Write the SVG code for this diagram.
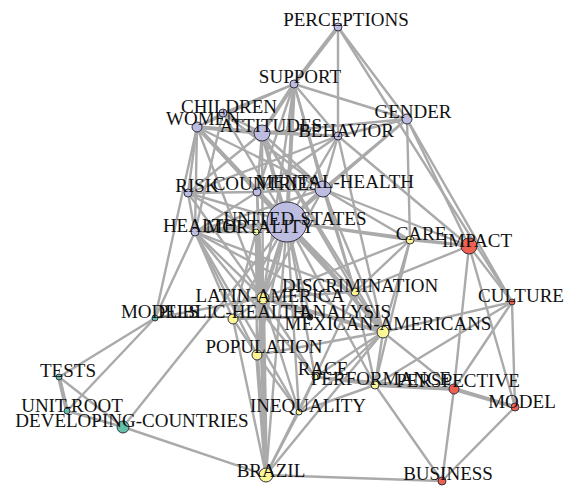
<svg xmlns="http://www.w3.org/2000/svg" width="568" height="486" viewBox="0 0 568 486">
<style>
.bg{fill:#ffffff}
#edges line{stroke:#aaaaaa;stroke-width:2.4;stroke-linecap:round}
#edges line.t{stroke-width:4}
#edges line.k{stroke:#333333;stroke-width:1.2}
circle{stroke:#333344;stroke-width:1}
.lav{fill:#bdbde2}
.yel{fill:#fcf594}
.red{fill:#f0604f}
.tea{fill:#63bfa9}
.dk{fill:#3a3a2a}
text{font-family:"Liberation Serif","Times New Roman",serif;font-size:19px;fill:#111111;text-anchor:middle}
</style>
<rect class="bg" x="0" y="0" width="568" height="486"/>
<g id="edges">
<line class="t" x1="338" y1="27" x2="294" y2="84"/>
<line x1="338" y1="27" x2="338" y2="136"/>
<line x1="338" y1="27" x2="407" y2="119"/>
<line x1="338" y1="27" x2="512" y2="302"/>
<line x1="294" y1="84" x2="407" y2="119"/>
<line x1="294" y1="84" x2="197" y2="127"/>
<line x1="294" y1="84" x2="223" y2="113"/>
<line class="t" x1="294" y1="84" x2="262" y2="133"/>
<line x1="294" y1="84" x2="338" y2="136"/>
<line class="t" x1="294" y1="84" x2="287" y2="222"/>
<line x1="294" y1="84" x2="323" y2="189"/>
<line x1="294" y1="84" x2="257" y2="192"/>
<line x1="294" y1="84" x2="263" y2="298"/>
<line x1="294" y1="84" x2="355" y2="292"/>
<line x1="223" y1="113" x2="197" y2="127"/>
<line x1="223" y1="113" x2="262" y2="133"/>
<line x1="223" y1="113" x2="287" y2="222"/>
<line x1="223" y1="113" x2="195" y2="232"/>
<line x1="223" y1="113" x2="323" y2="189"/>
<line class="t" x1="197" y1="127" x2="262" y2="133"/>
<line x1="197" y1="127" x2="338" y2="136"/>
<line x1="197" y1="127" x2="195" y2="232"/>
<line x1="197" y1="127" x2="188" y2="193"/>
<line x1="197" y1="127" x2="257" y2="192"/>
<line class="t" x1="197" y1="127" x2="287" y2="222"/>
<line x1="197" y1="127" x2="323" y2="189"/>
<line x1="197" y1="127" x2="263" y2="298"/>
<line x1="197" y1="127" x2="155" y2="318"/>
<line x1="197" y1="127" x2="383" y2="332"/>
<line x1="262" y1="133" x2="338" y2="136"/>
<line class="t" x1="262" y1="133" x2="287" y2="222"/>
<line x1="262" y1="133" x2="323" y2="189"/>
<line x1="262" y1="133" x2="257" y2="192"/>
<line x1="262" y1="133" x2="188" y2="193"/>
<line x1="262" y1="133" x2="407" y2="119"/>
<line x1="262" y1="133" x2="263" y2="298"/>
<line x1="262" y1="133" x2="383" y2="332"/>
<line x1="262" y1="133" x2="355" y2="292"/>
<line x1="338" y1="136" x2="287" y2="222"/>
<line x1="338" y1="136" x2="323" y2="189"/>
<line x1="338" y1="136" x2="407" y2="119"/>
<line x1="338" y1="136" x2="469" y2="246"/>
<line x1="338" y1="136" x2="257" y2="192"/>
<line x1="338" y1="136" x2="188" y2="193"/>
<line x1="338" y1="136" x2="383" y2="332"/>
<line x1="407" y1="119" x2="410" y2="240"/>
<line x1="407" y1="119" x2="469" y2="246"/>
<line x1="407" y1="119" x2="512" y2="302"/>
<line x1="407" y1="119" x2="323" y2="189"/>
<line x1="407" y1="119" x2="287" y2="222"/>
<line x1="188" y1="193" x2="195" y2="232"/>
<line x1="188" y1="193" x2="287" y2="222"/>
<line x1="188" y1="193" x2="257" y2="192"/>
<line x1="188" y1="193" x2="256" y2="232"/>
<line x1="188" y1="193" x2="263" y2="298"/>
<line class="t" x1="257" y1="192" x2="287" y2="222"/>
<line x1="257" y1="192" x2="323" y2="189"/>
<line x1="257" y1="192" x2="263" y2="298"/>
<line x1="257" y1="192" x2="195" y2="232"/>
<line x1="257" y1="192" x2="266" y2="475"/>
<line class="t" x1="323" y1="189" x2="287" y2="222"/>
<line x1="323" y1="189" x2="410" y2="240"/>
<line x1="323" y1="189" x2="469" y2="246"/>
<line x1="323" y1="189" x2="383" y2="332"/>
<line x1="323" y1="189" x2="355" y2="292"/>
<line x1="323" y1="189" x2="263" y2="298"/>
<line x1="323" y1="189" x2="195" y2="232"/>
<line class="t" x1="287" y1="222" x2="195" y2="232"/>
<line x1="287" y1="222" x2="256" y2="232"/>
<line x1="287" y1="222" x2="410" y2="240"/>
<line x1="287" y1="222" x2="469" y2="246"/>
<line class="t" x1="287" y1="222" x2="263" y2="298"/>
<line class="t" x1="287" y1="222" x2="383" y2="332"/>
<line x1="287" y1="222" x2="355" y2="292"/>
<line x1="287" y1="222" x2="233" y2="319"/>
<line x1="287" y1="222" x2="257" y2="355"/>
<line x1="287" y1="222" x2="266" y2="475"/>
<line x1="287" y1="222" x2="299" y2="412"/>
<line x1="287" y1="222" x2="315" y2="377"/>
<line x1="287" y1="222" x2="375" y2="385"/>
<line x1="287" y1="222" x2="123" y2="427"/>
<line x1="287" y1="222" x2="310" y2="317"/>
<line x1="195" y1="232" x2="155" y2="318"/>
<line x1="195" y1="232" x2="256" y2="232"/>
<line x1="195" y1="232" x2="263" y2="298"/>
<line x1="195" y1="232" x2="233" y2="319"/>
<line x1="195" y1="232" x2="257" y2="355"/>
<line x1="195" y1="232" x2="383" y2="332"/>
<line x1="195" y1="232" x2="315" y2="377"/>
<line x1="195" y1="232" x2="355" y2="292"/>
<line x1="195" y1="232" x2="299" y2="412"/>
<line x1="256" y1="232" x2="263" y2="298"/>
<line x1="256" y1="232" x2="257" y2="355"/>
<line x1="256" y1="232" x2="266" y2="475"/>
<line x1="256" y1="232" x2="233" y2="319"/>
<line x1="410" y1="240" x2="469" y2="246"/>
<line x1="410" y1="240" x2="355" y2="292"/>
<line x1="410" y1="240" x2="383" y2="332"/>
<line x1="410" y1="240" x2="375" y2="385"/>
<line x1="410" y1="240" x2="263" y2="298"/>
<line x1="469" y1="246" x2="512" y2="302"/>
<line x1="469" y1="246" x2="454" y2="389"/>
<line x1="469" y1="246" x2="515" y2="407"/>
<line x1="469" y1="246" x2="355" y2="292"/>
<line x1="512" y1="302" x2="515" y2="407"/>
<line x1="512" y1="302" x2="383" y2="332"/>
<line x1="512" y1="302" x2="454" y2="389"/>
<line x1="512" y1="302" x2="375" y2="385"/>
<line class="t" x1="454" y1="389" x2="515" y2="407"/>
<line x1="454" y1="389" x2="442" y2="481"/>
<line class="t" x1="454" y1="389" x2="375" y2="385"/>
<line x1="454" y1="389" x2="383" y2="332"/>
<line x1="454" y1="389" x2="315" y2="377"/>
<line x1="515" y1="407" x2="442" y2="481"/>
<line x1="375" y1="385" x2="442" y2="481"/>
<line x1="375" y1="385" x2="315" y2="377"/>
<line x1="375" y1="385" x2="383" y2="332"/>
<line x1="375" y1="385" x2="355" y2="292"/>
<line x1="375" y1="385" x2="299" y2="412"/>
<line x1="315" y1="377" x2="383" y2="332"/>
<line x1="315" y1="377" x2="355" y2="292"/>
<line x1="315" y1="377" x2="299" y2="412"/>
<line x1="315" y1="377" x2="263" y2="298"/>
<line x1="315" y1="377" x2="266" y2="475"/>
<line x1="299" y1="412" x2="266" y2="475"/>
<line x1="299" y1="412" x2="263" y2="298"/>
<line x1="299" y1="412" x2="257" y2="355"/>
<line x1="299" y1="412" x2="383" y2="332"/>
<line class="t" x1="257" y1="355" x2="266" y2="475"/>
<line x1="257" y1="355" x2="263" y2="298"/>
<line x1="257" y1="355" x2="233" y2="319"/>
<line x1="257" y1="355" x2="383" y2="332"/>
<line x1="263" y1="298" x2="233" y2="319"/>
<line x1="263" y1="298" x2="355" y2="292"/>
<line class="t" x1="263" y1="298" x2="383" y2="332"/>
<line x1="263" y1="298" x2="310" y2="317"/>
<line class="t" x1="263" y1="298" x2="266" y2="475"/>
<line x1="355" y1="292" x2="383" y2="332"/>
<line x1="233" y1="319" x2="266" y2="475"/>
<line x1="233" y1="319" x2="310" y2="317"/>
<line x1="383" y1="332" x2="266" y2="475"/>
<line x1="123" y1="427" x2="266" y2="475"/>
<line x1="266" y1="475" x2="442" y2="481"/>
<line x1="123" y1="427" x2="59" y2="377"/>
<line x1="123" y1="427" x2="67" y2="411"/>
<line class="t" x1="59" y1="377" x2="67" y2="411"/>
<line x1="59" y1="377" x2="155" y2="318"/>
<line x1="67" y1="411" x2="155" y2="318"/>
<line x1="155" y1="318" x2="263" y2="298"/>
<line class="k" x1="155" y1="317" x2="310" y2="317"/>
</g>
<g id="n-united-states"><circle class="lav" cx="287" cy="222" r="20"/><text x="295" y="225">UNITED-STATES</text></g>
<g id="n-perceptions"><circle class="lav" cx="338" cy="27" r="4"/><text x="346" y="26">PERCEPTIONS</text></g>
<g id="n-support"><circle class="lav" cx="294" cy="84" r="4"/><text x="300" y="83">SUPPORT</text></g>
<g id="n-children"><circle class="lav" cx="223" cy="113" r="4"/><text x="229" y="113">CHILDREN</text></g>
<g id="n-women"><circle class="lav" cx="197" cy="127" r="5"/><text x="203" y="125">WOMEN</text></g>
<g id="n-attitudes"><circle class="lav" cx="262" cy="133" r="8"/><text x="271" y="132">ATTITUDES</text></g>
<g id="n-behavior"><circle class="lav" cx="338" cy="136" r="4"/><text x="346" y="137">BEHAVIOR</text></g>
<g id="n-gender"><circle class="lav" cx="407" cy="119" r="5"/><text x="413" y="118">GENDER</text></g>
<g id="n-risk"><circle class="lav" cx="188" cy="193" r="4"/><text x="197" y="192">RISK</text></g>
<g id="n-countries"><circle class="lav" cx="257" cy="192" r="4"/><text x="266" y="190">COUNTRIES</text></g>
<g id="n-mental-health"><circle class="lav" cx="323" cy="189" r="8"/><text x="335" y="188">MENTAL-HEALTH</text></g>
<g id="n-health"><circle class="lav" cx="195" cy="232" r="4"/><text x="200" y="232">HEALTH</text></g>
<g id="n-mortality"><circle class="yel" cx="256" cy="232" r="3"/><text x="260" y="233">MORTALITY</text></g>
<g id="n-care"><circle class="yel" cx="410" cy="240" r="4"/><text x="421" y="240">CARE</text></g>
<g id="n-impact"><circle class="red" cx="469" cy="246" r="8"/><text x="477" y="247">IMPACT</text></g>
<g id="n-discrimination"><circle class="yel" cx="355" cy="292" r="4"/><text x="360" y="292">DISCRIMINATION</text></g>
<g id="n-latin-america"><circle class="yel" cx="263" cy="298" r="6"/><text x="270" y="302">LATIN-AMERICA</text></g>
<g id="n-culture"><circle class="red" cx="512" cy="302" r="3"/><text x="521" y="302">CULTURE</text></g>
<g id="n-models"><circle class="tea" cx="155" cy="318" r="3"/><text x="160" y="318">MODELS</text></g>
<g id="n-public-health"><circle class="yel" cx="233" cy="319" r="5"/><text x="232" y="318">PUBLIC-HEALTH</text></g>
<g id="n-analysis"><circle class="dk" cx="310" cy="317" r="3"/><text x="345" y="318">ANALYSIS</text></g>
<g id="n-mexican-americans"><circle class="yel" cx="383" cy="332" r="6"/><text x="388" y="330">MEXICAN-AMERICANS</text></g>
<g id="n-population"><circle class="yel" cx="257" cy="355" r="5"/><text x="264" y="353">POPULATION</text></g>
<g id="n-race"><circle class="yel" cx="315" cy="377" r="3"/><text x="323" y="375">RACE</text></g>
<g id="n-performance"><circle class="yel" cx="375" cy="385" r="4"/><text x="381" y="385">PERFORMANCE</text></g>
<g id="n-perspective"><circle class="red" cx="454" cy="389" r="5"/><text x="458" y="387">PERSPECTIVE</text></g>
<g id="n-model"><circle class="red" cx="515" cy="407" r="4"/><text x="522" y="408">MODEL</text></g>
<g id="n-inequality"><circle class="yel" cx="299" cy="412" r="3"/><text x="308" y="412">INEQUALITY</text></g>
<g id="n-tests"><circle class="tea" cx="59" cy="377" r="3"/><text x="68" y="377">TESTS</text></g>
<g id="n-unit-root"><circle class="tea" cx="67" cy="411" r="3"/><text x="72" y="412">UNIT-ROOT</text></g>
<g id="n-developing-countries"><circle class="tea" cx="123" cy="427" r="6"/><text x="132" y="427">DEVELOPING-COUNTRIES</text></g>
<g id="n-brazil"><circle class="yel" cx="266" cy="475" r="7"/><text x="271" y="477">BRAZIL</text></g>
<g id="n-business"><circle class="red" cx="442" cy="481" r="4"/><text x="448" y="480">BUSINESS</text></g>
</svg>
